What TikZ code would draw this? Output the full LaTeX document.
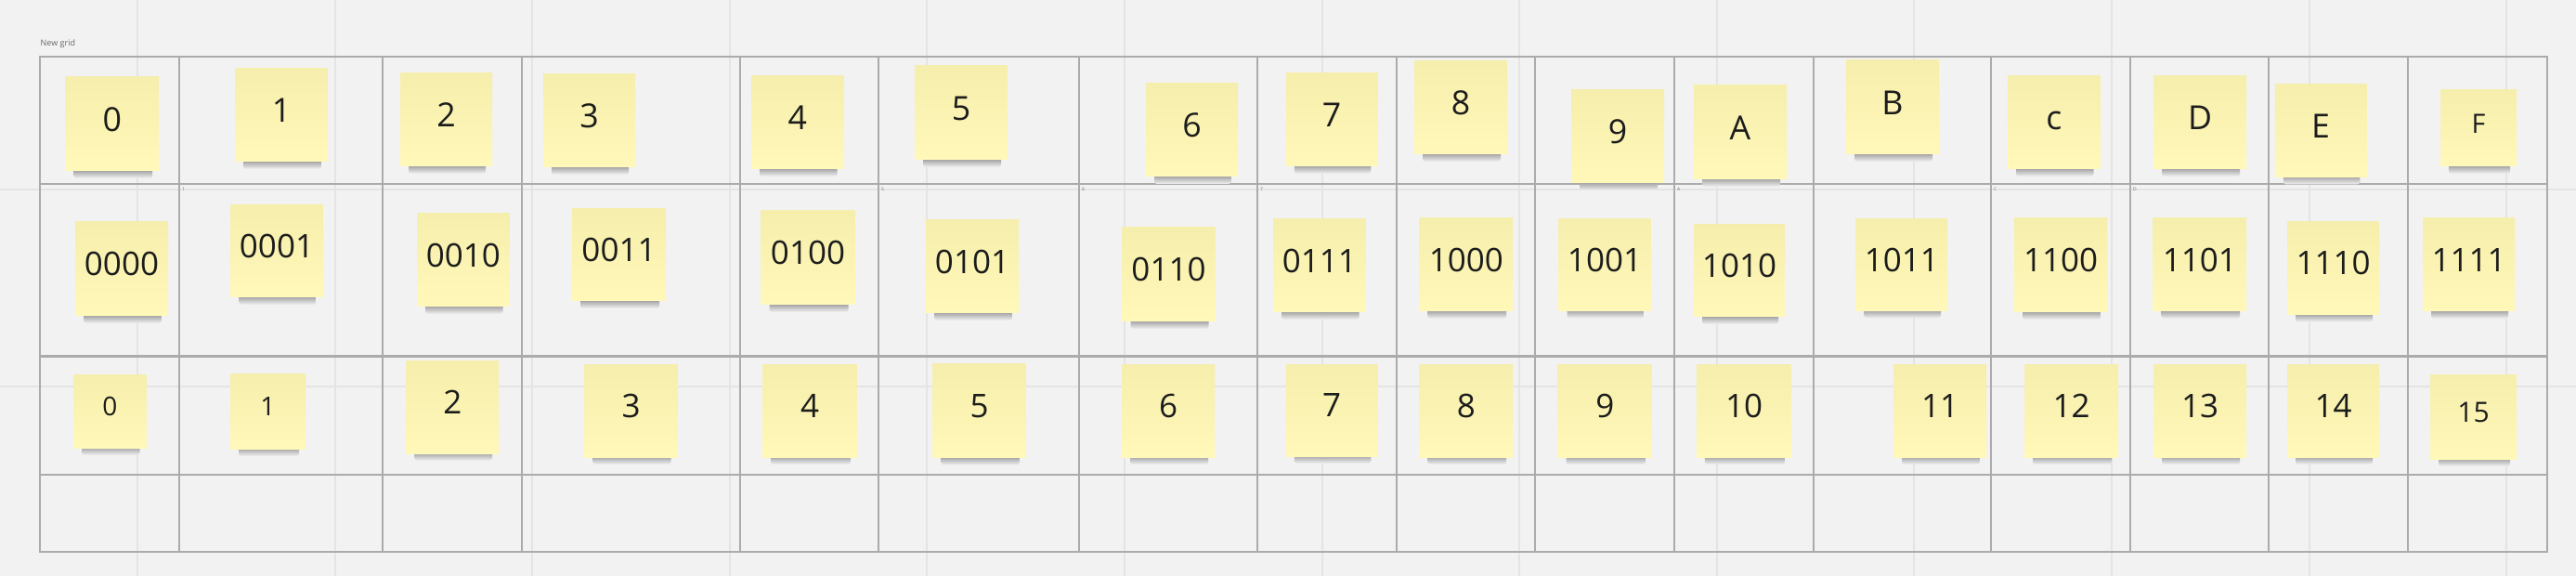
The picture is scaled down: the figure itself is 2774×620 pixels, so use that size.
\documentclass[tikz,border=0pt]{standalone}
\usepackage{fontspec}
\setmainfont{Open Sans}
\usepackage{tikz}
\usetikzlibrary{shadings}

\definecolor{boardbg}{HTML}{F2F2F2}
\definecolor{gridline}{HTML}{ABABAB}
\definecolor{faintline}{HTML}{E4E4E4}
\definecolor{stickyyellow}{HTML}{FFF8B9}
\definecolor{stickytop}{HTML}{F5EEAC}
\definecolor{inktext}{HTML}{1C1C1C}

\begin{document}
\begin{tikzpicture}[x=1pt,y=-1pt,
            sticky/.style={top color=stickytop, middle color=stickyyellow, bottom color=stickyyellow,
                draw=none, inner sep=0pt, text=inktext, text depth=10pt},
            cellmark/.style={anchor=north west, inner sep=0pt, text=black!55, font=\fontsize{5}{5}\selectfont}
            ]
            % The board
            \fill[boardbg] (0,0) rectangle (2774,620);
            \useasboundingbox (0,0) rectangle (2774,620);
            \foreach \fx in {0,...,12}
                \draw[faintline,line width=2pt] ({148+212.6*\fx},0) -- ({148+212.6*\fx},620);
            \draw[faintline,line width=2pt] (0,203.6) -- (2774,203.6);
            \draw[faintline,line width=2pt] (0,416) -- (2774,416);
            
            % The grid
            \node[anchor=base west, inner sep=0pt, text=black!60, font=\fontsize{9}{9}\selectfont] (title) at (43.5,50) {New grid};
            \draw[gridline,line width=2.2pt] (43,61) rectangle (2743,594);
            \foreach \cx in {193,412,562,797,946,1162,1354,1504,1653,1803,1953,2144,2294,2443,2593}
                \draw[gridline,line width=2.2pt] (\cx,61) -- (\cx,594);
            \foreach \ry in {198,383.5,511}
                \draw[gridline,line width=2.2pt] (43,\ry) -- (2743,\ry);
            
            % The cell marks
            \foreach \nm/\cx/\t in {m1/193/1,m5/946/5,m6/1162/6,m7/1354/7,mA/1803/A,mC/2144/C,mD/2294/D}
                \node[cellmark] (\nm) at (\cx+3,202) {\t};
            
            % The stickies
            \foreach \nm/\x/\y/\w/\h/\s/\t in {
                h0/120.8/133.5/100.5/101/35.7/0, h1/303/124/100/100/35.7/1, h2/480.5/129/99/100/35.7/2,
                h3/634.5/130/99/100/35.7/3, h4/858.8/132/99.5/100/35.7/4, h5/1035/121.5/100/101/35.7/5,
                h6/1283.5/140/99/100/35.7/6, h7/1434/129/98.5/100/35.7/7, h8/1573/116/100/100/35.7/8,
                h9/1742/147/100/100/35.7/9, hA/1874/142.5/100/101/35.7/A, hB/2038/115.5/100/101/35.7/B,
                hC/2211.8/132/99.5/100/35.7/c, hD/2369/132/100/100/35.7/D, hE/2499/140.5/98.5/100/35.7/E,
                hF/2669/138/82/82/28.7/F,
                b0/131/289.5/100/101/35/0000, b1/298/270.5/99/99/35/0001, b2/498.8/280/99.6/100/35/0010,
                b3/666.5/274.5/101/99/35/0011, b4/870/277.5/101/101/35/0100, b5/1047/286.7/100/100.5/35/0101,
                b6/1258.5/295.5/100/101/35/0110, b7/1420.8/285.8/99.5/100.4/35/0111, b8/1578.8/285/100.4/100/35/1000,
                b9/1728/284.8/99/99.5/35/1001, b10/1873/291.5/98/99/35/1010, b11/2047.8/284.8/98.4/99.5/35/1011,
                b12/2219/285.5/100/101/35/1100, b13/2368.8/285/100.4/100/35/1101, b14/2512.5/288.3/99/100.5/35/1110,
                b15/2658.5/285/99/100/35/1111,
                d0/118.3/442.5/78.6/79/28/0, d1/288.5/442.8/81/80.5/28/1, d2/487.3/438/99.5/100/35/2,
                d3/679.5/442/100/100/35/3, d4/872/442/101.8/100/35/4, d5/1054.5/442.3/100/100.7/35/5,
                d6/1258/442/100/100/35/6, d7/1434/441.5/98.5/99/35/7, d8/1578.8/442/100.4/100/35/8,
                d9/1728.3/442/101.3/100/35/9, d10/1878/442/102.2/100/35/10, d11/2089/442/100/100/35/11,
                d12/2230.5/442/101/100/35/12, d13/2369/442/100/100/35/13, d14/2512.5/442/99/100/35/14,
                d15/2663.5/448.5/93/91/30/15}
            {
                \pgfmathsetmacro{\capht}{0.714*\s}
                \shade[top color=black!45, bottom color=boardbg, rounded corners=3pt]
                    ({\x-\w/2+9},{\y+\h/2-3}) rectangle ({\x+\w/2-7},{\y+\h/2+8});
                \node[sticky, minimum width=\w pt, minimum height=\h pt, text height=\capht pt,
                    font=\fontsize{\s}{\s}\selectfont] (\nm) at (\x,\y) {\t};
            }
        \end{tikzpicture}
\end{document}
